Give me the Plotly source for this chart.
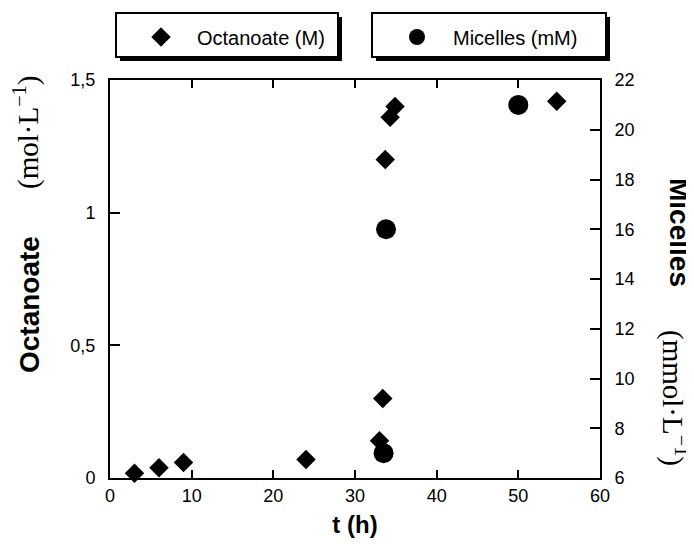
import plotly.graph_objects as go

# ---- data ----
oct_t = [3, 6, 9, 24, 33.0, 33.4, 33.7, 34.3, 34.9, 54.7]
oct_val = [0.018, 0.039, 0.058, 0.07, 0.14, 0.30, 1.20, 1.36, 1.40, 1.42]
mic_t = [33.5, 33.8, 50.0]
mic_val = [7.0, 16.0, 21.0]

x_ticks = [0, 10, 20, 30, 40, 50, 60]
y1_ticks = [0, 0.5, 1, 1.5]
y1_labels = ["0", "0,5", "1", "1,5"]
y2_ticks = [6, 8, 10, 12, 14, 16, 18, 20, 22]

# page offset of the figure (default body margin) and window size
OFF = 8
WIN_W, WIN_H = 694, 549
W, H = WIN_W - OFF, WIN_H - OFF
L, R, T, B = 110, 600, 80, 478  # plot area in window pixels


def px(xp):
    return (xp - L) / (R - L)


def py(yp):
    return (B - yp) / (B - T)


SANS = "Liberation Sans, Arial, sans-serif"
SERIF = "Liberation Serif, DejaVu Serif, serif"

fig = go.Figure()
fig.add_trace(go.Scatter(
    x=oct_t, y=oct_val, mode="markers", name="Octanoate (M)",
    marker=dict(symbol="diamond", size=15, color="black"),
    cliponaxis=False, legend="legend", yaxis="y",
))
fig.add_trace(go.Scatter(
    x=mic_t, y=mic_val, mode="markers", name="Micelles (mM)",
    marker=dict(symbol="circle", size=20, color="black"),
    cliponaxis=False, legend="legend2", yaxis="y2",
))

shapes = []
for (x0, x1) in [(116, 338), (372, 606)]:
    y0, y1 = 13, 57
    shapes.append(dict(type="rect", xref="paper", yref="paper",
                       x0=px(x0 + 4), x1=px(x1 + 4), y0=py(y0 + 4), y1=py(y1 + 4),
                       fillcolor="black", line=dict(width=0), layer="below"))
    shapes.append(dict(type="rect", xref="paper", yref="paper",
                       x0=px(x0), x1=px(x1), y0=py(y0), y1=py(y1),
                       fillcolor="white", line=dict(color="black", width=2), layer="below"))

ann_common = dict(xref="paper", yref="paper", showarrow=False,
                  xanchor="center", yanchor="middle")
annotations = [
    dict(text="Octanoate", x=px(29), y=py(305), textangle=-90,
         font=dict(family=SANS, size=28, color="black", weight="bold"), **ann_common),
    dict(text="(mol·L<sup>−1</sup>)", x=px(27), y=py(133), textangle=-90,
         font=dict(family=SERIF, size=29, color="black"), **ann_common),
    dict(text="Micelles", x=px(680), y=py(232), textangle=90,
         font=dict(family=SANS, size=28, color="black", weight="bold"), **ann_common),
    dict(text="(mmol·L<sup>−1</sup>)", x=px(675), y=py(398), textangle=90,
         font=dict(family=SERIF, size=29, color="black"), **ann_common),
]

axis_common = dict(showgrid=False, zeroline=False, showline=True, linecolor="black",
                   linewidth=2, ticks="inside", tickcolor="black", tickwidth=2,
                   tickfont=dict(family=SANS, size=18, color="black"))

fig.update_layout(
    width=W, height=H,
    margin=dict(l=L - OFF, r=WIN_W - R, t=T - OFF, b=WIN_H - B, autoexpand=False),
    paper_bgcolor="white", plot_bgcolor="white",
    xaxis=dict(range=[0, 60], tickvals=x_ticks, ticklen=8, mirror="ticks",
               title=dict(text="t (h)", standoff=12,
                          font=dict(family=SANS, size=24, color="black", weight="bold")),
               **axis_common),
    yaxis=dict(range=[0, 1.5], tickvals=y1_ticks, ticktext=y1_labels, ticklen=10,
               mirror=True, ticklabelstandoff=9, **axis_common),
    yaxis2=dict(range=[6, 22], tickvals=y2_ticks, ticklen=10, overlaying="y",
                side="right", ticklabelstandoff=9, **axis_common),
    legend=dict(x=px(125), y=py(37), xanchor="left", yanchor="middle",
                bgcolor="rgba(0,0,0,0)", borderwidth=0, itemwidth=62,
                font=dict(family=SANS, size=20, color="black")),
    legend2=dict(x=px(381), y=py(37), xanchor="left", yanchor="middle",
                 bgcolor="rgba(0,0,0,0)", borderwidth=0, itemwidth=62,
                 font=dict(family=SANS, size=20, color="black")),
    shapes=shapes,
    annotations=annotations,
    showlegend=True,
)

fig.write_html("out.html")
